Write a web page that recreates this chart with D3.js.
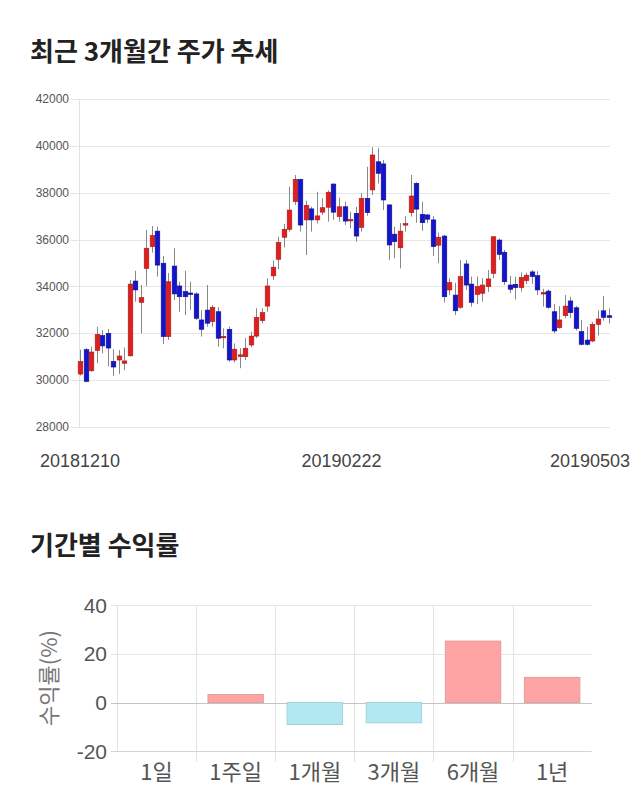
<!DOCTYPE html>
<html><head><meta charset="utf-8">
<script src="https://cdn.jsdelivr.net/npm/d3@7"></script>
<style>
html,body{margin:0;padding:0;background:#fff;}
svg{display:block;}
</style></head>
<body>
<script>
// ---- Data ----
const dates = ["20181210","20181211","20181212","20181213","20181214","20181217","20181218","20181219","20181220","20181221","20181224","20181226","20181227","20181228",
"20190102","20190103","20190104","20190107","20190108","20190109","20190110","20190111","20190114","20190115","20190116","20190117","20190118","20190121","20190122","20190123","20190124","20190125","20190128","20190129","20190130","20190131",
"20190201","20190207","20190208","20190211","20190212","20190213","20190214","20190215","20190218","20190219","20190220","20190221","20190222","20190225","20190226","20190227","20190228",
"20190304","20190305","20190306","20190307","20190308","20190311","20190312","20190313","20190314","20190315","20190318","20190319","20190320","20190321","20190322","20190325","20190326","20190327","20190328","20190329",
"20190401","20190402","20190403","20190404","20190405","20190408","20190409","20190410","20190411","20190412","20190415","20190416","20190417","20190418","20190419","20190422","20190423","20190424","20190425","20190426","20190429","20190430",
"20190502","20190503"];
const openP  = [30260,31300,30400,31270,31900,32000,30800,30860,30720,31040,34230,33320,34770,35700,36360,34990,31860,34870,34020,33780,33720,33680,32570,32990,32500,32920,31840,32170,30860,31050,31000,31500,31880,32540,33160,34450,35160,36100,36440,37620,38570,36840,37310,36840,37170,37380,38370,36980,37400,36820,37120,36520,37760,38120,39320,39230,37480,36230,35650,36660,37150,38400,37080,37050,36840,35760,36150,33850,33630,33110,34960,34100,33660,33710,33990,34560,35980,35460,34060,34090,33950,34250,34620,34460,33710,33800,32920,32240,32750,33380,33090,32070,31710,31670,32380,32960,32750];
const highP  = [31300,31370,31430,32280,32140,32180,31320,31290,31390,34275,34670,34060,36410,36580,36550,35300,34570,35630,34200,34670,34200,33750,32990,34060,33200,33110,32210,32280,31570,31360,31800,32070,33070,33070,34350,35100,36120,36670,38260,38760,38600,37660,37400,38040,37760,38100,38400,37790,37620,37190,37400,37980,39110,39940,39900,39400,37500,36550,36700,37000,38760,38450,37620,37100,37000,36300,36200,34350,34160,35130,35130,34420,34420,34350,34700,36150,36050,35560,34450,34420,34600,34590,34700,34650,33900,33870,33250,33160,33630,33560,33160,32570,32280,32490,32980,33590,33060];
const lowP   = [30200,29910,30350,30730,31150,30580,30180,30260,30420,31000,33350,32000,34020,35440,34420,31540,31710,33420,32920,32780,32990,32570,31860,32280,32280,31430,31360,30790,30750,30510,30860,31400,31800,32430,32920,34270,34730,35670,36340,37480,36340,35340,36340,36690,37050,36770,36840,36760,36620,36480,35910,36340,37010,37900,38400,37260,35130,35200,34770,36340,36980,36720,36380,36700,35300,34990,33310,33630,32780,33050,33850,33140,33250,33350,33770,34350,35130,34060,33710,33450,33780,34100,34100,33630,33140,33050,32000,32200,32640,32650,32120,31480,31480,31620,31910,32540,32420];
const closeP = [30790,29950,31200,31950,31460,31370,30560,31030,30820,34100,33850,33520,35630,36170,34910,31860,34200,33680,33560,33560,33680,32640,32170,32430,33110,31790,31870,30860,31320,31080,31360,31880,32680,32880,34020,34820,35880,36440,37260,38570,36620,37460,36840,37010,37360,38020,37170,37400,36790,36860,36150,37760,37150,39610,38830,37690,35770,35910,36360,36680,37860,37300,36720,36870,35700,36100,33560,34160,32960,34420,34060,33320,33990,34060,34320,36120,35370,34200,33880,33950,34380,34480,34420,33850,33740,33110,32100,32570,33160,32880,32210,31530,31530,32380,32610,32680,32680];
const dateTicks = ["20181210","20190222","20190503"];
const priceTicks = [28000,30000,32000,34000,36000,38000,40000,42000];

const periods = ["1일","1주일","1개월","3개월","6개월","1년"];
const returns = [0, 3.3, -9.0, -8.3, 25.2, 10.3];
const returnTicks = [-20, 0, 20, 40];

// ---- Drawing ----
const W = 640, H = 810;
const svg = d3.select("body").append("svg").attr("width", W).attr("height", H);
const KR = "'Noto Sans CJK KR','Noto Sans',sans-serif";
const LAT = "'Liberation Sans',Arial,sans-serif";

// Titles
svg.append("text").attr("x", 30).attr("y", 61).text("최근 3개월간 주가 추세")
  .attr("font-family", KR).attr("font-weight", "bold").attr("font-size", 26).attr("fill", "#222");
svg.append("text").attr("x", 30).attr("y", 555).text("기간별 수익률")
  .attr("font-family", KR).attr("font-weight", "bold").attr("font-size", 26).attr("fill", "#222");

// --- Candlestick chart ---
const x = d3.scalePoint().domain(dates).range([80, 609]);
const y = d3.scaleLinear().domain([28000, 42000]).range([427, 99]);
const topG = svg.append("g");

topG.selectAll("line.grid").data(priceTicks).join("line")
  .attr("x1", 70).attr("x2", 610)
  .attr("y1", d => Math.round(y(d)) + 0.5).attr("y2", d => Math.round(y(d)) + 0.5)
  .attr("stroke", "#e6e6e6").attr("stroke-width", 1);
topG.append("line").attr("x1", 79.5).attr("x2", 79.5).attr("y1", 99).attr("y2", 428)
  .attr("stroke", "#e2e2e2");
topG.selectAll("text.yl").data(priceTicks).join("text")
  .attr("x", 69).attr("y", d => y(d)).attr("dy", "0.35em")
  .attr("text-anchor", "end").attr("font-family", LAT).attr("font-size", 12).attr("fill", "#555")
  .text(d => d);

topG.selectAll("text.xl").data(dateTicks).join("text")
  .attr("x", (d, i) => i === dateTicks.length - 1 ? 630 : (i === 0 ? x(d) : x(d) - 3))
  .attr("y", 467)
  .attr("text-anchor", (d, i) => i === dateTicks.length - 1 ? "end" : "middle")
  .attr("font-family", LAT).attr("font-size", 18).attr("fill", "#444")
  .text(d => d);

const idx = d3.range(dates.length);
topG.selectAll("line.wick").data(idx).join("line")
  .attr("x1", i => Math.round(x(dates[i])) + 0.5).attr("x2", i => Math.round(x(dates[i])) + 0.5)
  .attr("y1", i => y(highP[i])).attr("y2", i => y(lowP[i]))
  .attr("stroke", "#888").attr("stroke-width", 1);
const bw = 4.6;
topG.selectAll("rect.body").data(idx).join("rect")
  .attr("x", i => Math.round(x(dates[i])) + 0.5 - bw / 2)
  .attr("width", bw)
  .attr("y", i => y(Math.max(openP[i], closeP[i])))
  .attr("height", i => Math.max(1.5, Math.abs(y(openP[i]) - y(closeP[i]))))
  .attr("fill", i => closeP[i] > openP[i] ? "#dd1f1f" : (closeP[i] < openP[i] ? "#1414c8" : "#444"))
  .attr("stroke", i => closeP[i] > openP[i] ? "#b31212" : (closeP[i] < openP[i] ? "#0c0c99" : "#444"))
  .attr("stroke-width", 0.6);

// --- Returns bar chart ---
const bx = d3.scaleBand().domain(periods).range([117, 591.7]).paddingInner(0.3).paddingOuter(0.15);
const by = d3.scaleLinear().domain([-20, 40]).range([751.3, 605]);
const botG = svg.append("g");
const step = bx.step();
const bounds = periods.map((p, i) => 117 + i * step);

botG.selectAll("line.vg").data(bounds).join("line")
  .attr("x1", d => Math.round(d) + 0.5).attr("x2", d => Math.round(d) + 0.5)
  .attr("y1", 605).attr("y2", (d, i) => i === 0 ? 751 : 762)
  .attr("stroke", "#e2e2e2");
botG.selectAll("line.hg").data(returnTicks).join("line")
  .attr("x1", 111).attr("x2", 591.7)
  .attr("y1", d => Math.round(by(d)) + 0.5).attr("y2", d => Math.round(by(d)) + 0.5)
  .attr("stroke", d => d === 0 ? "#c4c4c4" : (d === -20 ? "#d4d4d4" : "#e6e6e6"));
botG.selectAll("text.yl").data(returnTicks).join("text")
  .attr("x", 107).attr("y", d => by(d)).attr("dy", "0.36em")
  .attr("text-anchor", "end").attr("font-family", LAT).attr("font-size", 21).attr("fill", "#555")
  .text(d => d);
botG.selectAll("text.xl").data(periods).join("text")
  .attr("x", d => bx(d) + bx.bandwidth() / 2).attr("y", 780)
  .attr("text-anchor", "middle").attr("font-family", KR).attr("font-size", 22).attr("fill", "#555")
  .text(d => d);
botG.append("text")
  .attr("transform", "translate(57,678) rotate(-90)")
  .attr("text-anchor", "middle").attr("font-family", KR).attr("font-size", 22).attr("fill", "#777")
  .text("수익률(%)");

botG.selectAll("rect.bar").data(periods.map((p, i) => ({p, v: returns[i]})).filter(d => d.v !== 0)).join("rect")
  .attr("x", d => bx(d.p)).attr("width", bx.bandwidth())
  .attr("y", d => by(Math.max(0, d.v))).attr("height", d => Math.abs(by(d.v) - by(0)))
  .attr("fill", d => d.v > 0 ? "#ffa4a4" : "#b1e8f2")
  .attr("stroke", d => d.v > 0 ? "#e79a9a" : "#9fd3df").attr("stroke-width", 1);
</script>
</body></html>
